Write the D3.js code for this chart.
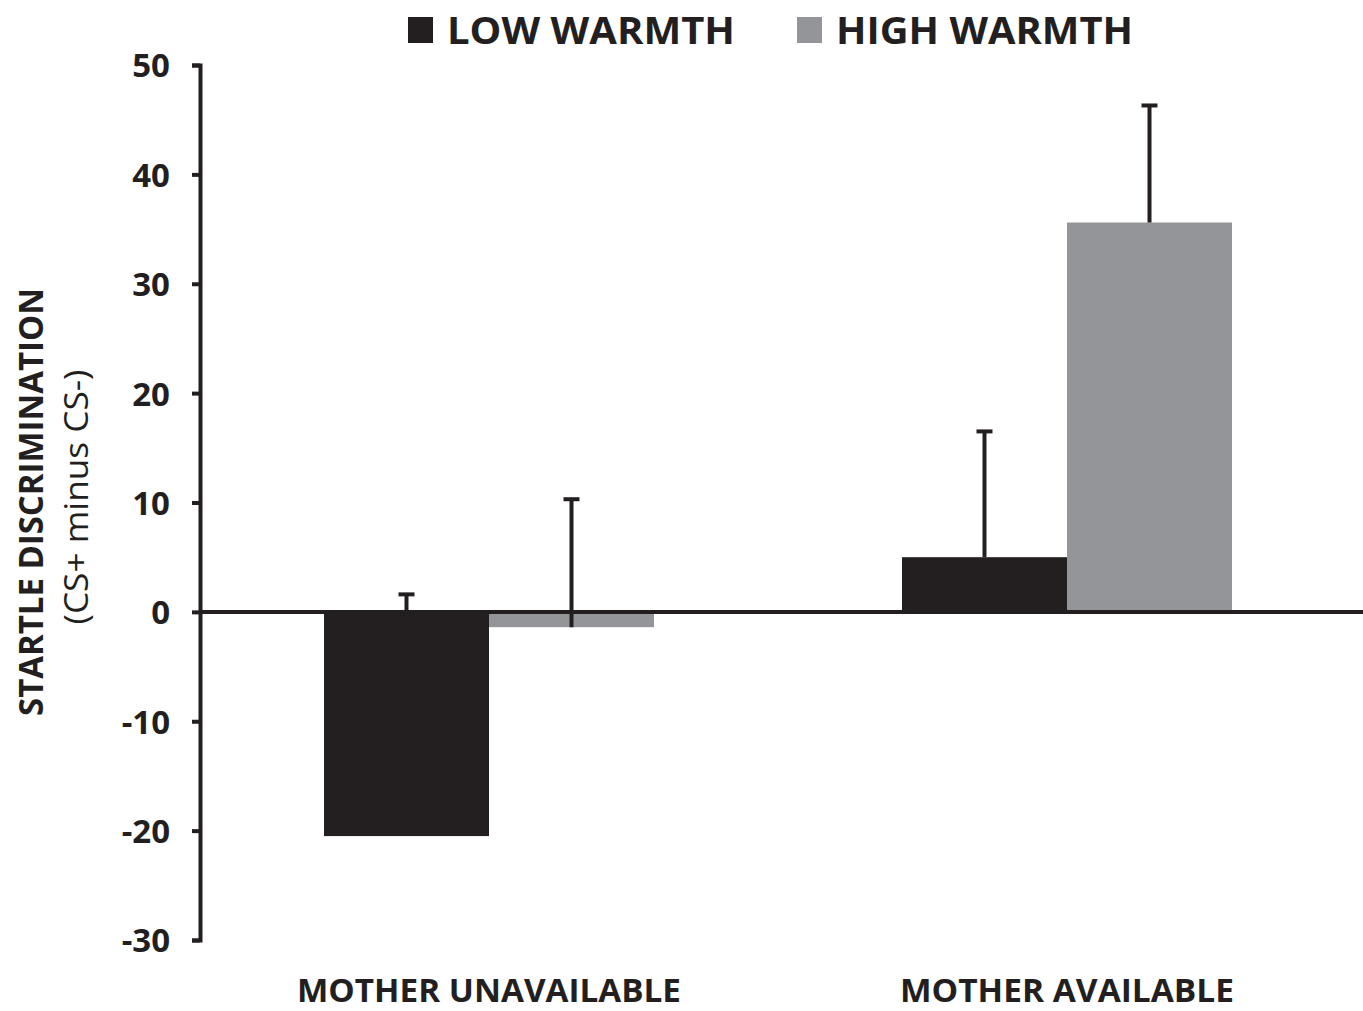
<!DOCTYPE html>
<html>
<head>
<meta charset="utf-8">
<script src="https://cdn.jsdelivr.net/npm/d3@7"></script>
<style>
  body { margin: 0; background: #fff; }
  text { font-family: "Open Sans", "Liberation Sans", sans-serif; fill: #231f20; }
</style>
</head>
<body>
<svg id="chart" width="1363" height="1011"></svg>
<script>
// data
let categories = ["MOTHER UNAVAILABLE", "MOTHER AVAILABLE"];
let groups = ["LOW WARMTH", "HIGH WARMTH"];
let lowValues = [-20.5, 5.0];
let lowErrors = [22.1, 11.5];
let highValues = [-1.4, 35.6];
let highErrors = [11.7, 10.7];
let yTicks = [-30, -20, -10, 0, 10, 20, 30, 40, 50];

let colors = { "LOW WARMTH": "#231f20", "HIGH WARMTH": "#939598" };
let ink = "#231f20";

let width = 1363, height = 1011;
let margin = { left: 200, right: 7, top: 65, bottom: 71 };

let svg = d3.select("#chart");

let y = d3.scaleLinear()
  .domain([-30, 50])
  .range([height - margin.bottom, margin.top]);

let x0 = d3.scalePoint()
  .domain(categories)
  .range([margin.left, width - margin.right])
  .padding(0.5);

let x1 = d3.scaleBand()
  .domain(groups)
  .range([-165, 165]);

let rows = [];
categories.forEach((c, i) => {
  rows.push({ cat: c, grp: groups[0], value: lowValues[i], err: lowErrors[i] });
  rows.push({ cat: c, grp: groups[1], value: highValues[i], err: highErrors[i] });
});

// bars
svg.append("g").selectAll("rect")
  .data(rows)
  .enter()
  .append("rect")
  .attr("x", d => x0(d.cat) + x1(d.grp))
  .attr("width", x1.bandwidth())
  .attr("y", d => y(Math.max(0, d.value)))
  .attr("height", d => Math.abs(y(d.value) - y(0)))
  .attr("fill", d => colors[d.grp]);

// error bars (plus direction only)
let eb = svg.append("g").selectAll("g")
  .data(rows)
  .enter()
  .append("g");
eb.append("line")
  .attr("x1", d => x0(d.cat) + x1(d.grp) + x1.bandwidth() / 2)
  .attr("x2", d => x0(d.cat) + x1(d.grp) + x1.bandwidth() / 2)
  .attr("y1", d => y(d.value))
  .attr("y2", d => y(d.value + d.err))
  .attr("stroke", ink)
  .attr("stroke-width", 4);
eb.append("line")
  .attr("x1", d => x0(d.cat) + x1(d.grp) + x1.bandwidth() / 2 - 8)
  .attr("x2", d => x0(d.cat) + x1(d.grp) + x1.bandwidth() / 2 + 8)
  .attr("y1", d => y(d.value + d.err))
  .attr("y2", d => y(d.value + d.err))
  .attr("stroke", ink)
  .attr("stroke-width", 4);

// zero line
svg.append("line")
  .attr("x1", margin.left)
  .attr("x2", width)
  .attr("y1", y(0))
  .attr("y2", y(0))
  .attr("stroke", ink)
  .attr("stroke-width", 4);

// y axis
let yAxis = svg.append("g")
  .attr("transform", "translate(" + margin.left + ",0)")
  .call(d3.axisLeft(y).tickValues(yTicks).tickFormat(d => String(d))
    .tickSize(8).tickSizeOuter(8).tickPadding(22));
yAxis.selectAll("path, line").attr("stroke", ink).attr("stroke-width", 4);
yAxis.selectAll("text")
  .style("font-size", "33px")
  .style("font-weight", "bold")
  .attr("fill", ink)
  .attr("dy", "0.36em");

// category labels
svg.append("g").selectAll("text")
  .data(categories)
  .enter()
  .append("text")
  .attr("x", d => x0(d))
  .attr("y", 1002)
  .attr("text-anchor", "middle")
  .attr("textLength", d => d === categories[0] ? 384 : 334)
  .attr("lengthAdjust", "spacingAndGlyphs")
  .style("font-size", "33px")
  .style("font-weight", "bold")
  .text(d => d);

// axis titles
svg.append("text")
  .attr("transform", "translate(43,502) rotate(-90)")
  .attr("text-anchor", "middle")
  .attr("textLength", 428)
  .attr("lengthAdjust", "spacingAndGlyphs")
  .style("font-size", "34px")
  .style("font-weight", "bold")
  .text("STARTLE DISCRIMINATION");
svg.append("text")
  .attr("transform", "translate(88,497) rotate(-90)")
  .attr("text-anchor", "middle")
  .attr("textLength", 255)
  .attr("lengthAdjust", "spacingAndGlyphs")
  .style("font-size", "33px")
  .text("(CS+ minus CS-)");

// legend
let legendX = [408, 797];
let legendW = [288, 297];
let legend = svg.append("g").selectAll("g")
  .data(groups)
  .enter()
  .append("g")
  .attr("transform", (d, i) => "translate(" + legendX[i] + ",0)");
legend.append("rect")
  .attr("x", 0)
  .attr("y", 17)
  .attr("width", 25)
  .attr("height", 26)
  .attr("fill", d => colors[d]);
legend.append("text")
  .attr("x", 39)
  .attr("y", 44)
  .attr("textLength", (d, i) => legendW[i])
  .attr("lengthAdjust", "spacingAndGlyphs")
  .style("font-size", "38px")
  .style("font-weight", "bold")
  .text(d => d);
</script>
</body>
</html>
